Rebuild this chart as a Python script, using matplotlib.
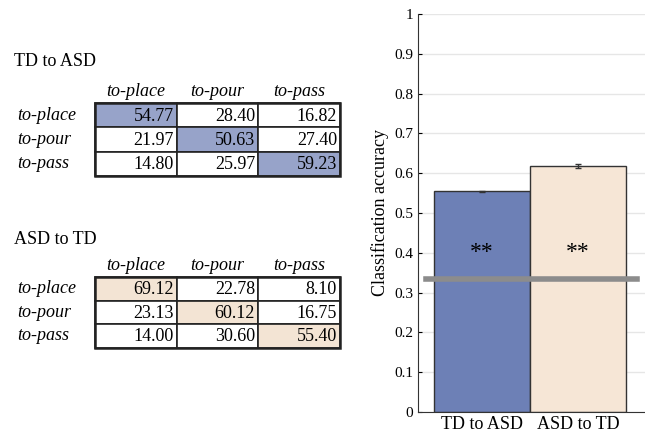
import numpy as np
import matplotlib.pyplot as plt
from matplotlib.patches import Rectangle

plt.rcParams['font.family'] = ['Liberation Serif', 'DejaVu Serif']

# Datos
motions = ['to-place', 'to-pour', 'to-pass']
td_to_asd = [[54.77, 28.40, 16.82],
             [21.97, 50.63, 27.40],
             [14.80, 25.97, 59.23]]
asd_to_td = [[69.12, 22.78, 8.10],
             [23.13, 60.12, 16.75],
             [14.00, 30.60, 55.40]]
groups = ['TD to ASD', 'ASD to TD']
accuracy = [0.555, 0.618]
accuracy_err = [0.001, 0.004]
chance = 1 / 3

BLUE_BAR = '#6d80b6'
BEIGE_BAR = '#f6e6d6'
BLUE_CELL = '#97a3c9'
BEIGE_CELL = '#f3e4d4'

W, H = 645, 433
fig = plt.figure(figsize=(W / 100, H / 100), dpi=100)

# Eje de fondo en coordenadas de pixel para las tablas
tab = fig.add_axes([0, 0, 1, 1])
tab.set_xlim(0, W)
tab.set_ylim(H, 0)
tab.axis('off')

col_edges = [95, 177, 258, 340]


def draw_table(title, data, top, row_h, title_y, cell_color):
    tab.text(14, title_y, title, fontsize=13, va='center', ha='left')
    for j, m in enumerate(motions):
        xc = (col_edges[j] + col_edges[j + 1]) / 2
        tab.text(xc, top - 11, m, fontsize=13, style='italic', ha='center', va='center')
    for i, m in enumerate(motions):
        y0 = top + i * row_h
        tab.text(17, y0 + row_h / 2, m, fontsize=13, style='italic', ha='left', va='center')
        for j in range(3):
            fc = cell_color if i == j else 'white'
            tab.add_patch(Rectangle((col_edges[j], y0), col_edges[j + 1] - col_edges[j], row_h,
                                    facecolor=fc, edgecolor='#222222', linewidth=1.2))
            tab.text(col_edges[j + 1] - 3, y0 + row_h / 2 + 1, f"{data[i][j]:.2f}", fontsize=13,
                     ha='right', va='center')
    tab.add_patch(Rectangle((col_edges[0], top), col_edges[-1] - col_edges[0], 3 * row_h,
                            facecolor='none', edgecolor='#222222', linewidth=1.8))


draw_table('TD to ASD', td_to_asd, 103, 24.3, 62, BLUE_CELL)
draw_table('ASD to TD', asd_to_td, 277, 23.5, 240, BEIGE_CELL)

# Grafico de barras
ax = fig.add_axes([418 / W, (H - 412) / H, (W - 418) / W, (412 - 14) / H])
x = np.array([1, 2])
ax.bar(x, accuracy, width=1.0, color=[BLUE_BAR, BEIGE_BAR], edgecolor='#333333', linewidth=1,
       yerr=accuracy_err, error_kw=dict(ecolor='#333333', elinewidth=1, capsize=2), zorder=2)
ax.plot([0.41, 2.62], [chance, chance], color='#8c8c8c', linewidth=4, zorder=3)
for xi in x:
    ax.text(xi, 0.4, '**', fontsize=17, ha='center', va='center', zorder=4)

ax.set_xlim(0.33, 2.7)
ax.set_ylim(0, 1)
ax.set_yticks(np.arange(0, 1.01, 0.1))
ax.set_yticklabels(['0'] + [f"{v:.1f}" for v in np.arange(0.1, 1.0, 0.1)] + ['1'])
ax.set_xticks(x)
ax.set_xticklabels(groups, fontsize=13)
ax.tick_params(axis='y', labelsize=11, direction='in', length=3)
ax.tick_params(axis='x', length=0, pad=3)
ax.set_ylabel('Classification accuracy', fontsize=13)
ax.grid(axis='y', color='#e6e6e6', linewidth=1, zorder=0)
ax.set_axisbelow(True)
ax.spines['top'].set_visible(False)
ax.spines['right'].set_visible(False)
ax.spines['left'].set_color('#333333')
ax.spines['bottom'].set_color('#333333')
ax.set_facecolor('none')

fig.savefig('out.png', dpi=100)
